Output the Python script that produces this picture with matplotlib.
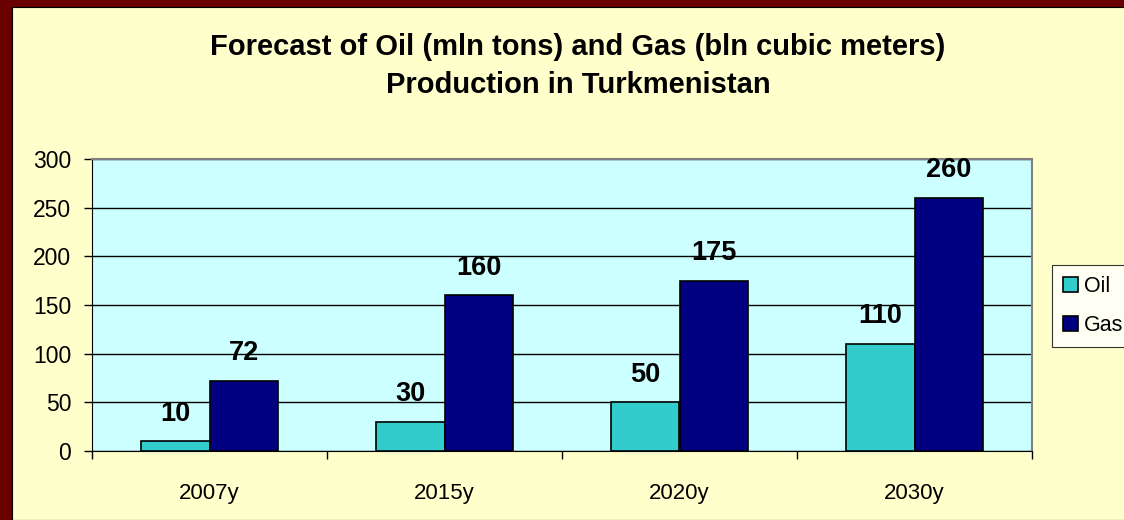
import matplotlib.pyplot as plt
from matplotlib.patches import Rectangle
import numpy as np

plt.rcParams['font.family'] = ['Liberation Sans', 'DejaVu Sans']

years = ['2007y', '2015y', '2020y', '2030y']
oil = [10, 30, 50, 110]
gas = [72, 160, 175, 260]

W, H = 1124, 520
fig = plt.figure(figsize=(W / 100, H / 100), dpi=100, facecolor='#6B0000')

# cream panel inside the dark red frame
fig.patches.append(Rectangle((12 / W, 0), 1, 1 - 7 / H, transform=fig.transFigure,
                             facecolor='#FFFFCC', edgecolor='black', linewidth=0.8, zorder=-5))

ax = fig.add_axes([92 / W, 1 - 451 / H, 940 / W, 292 / H])
ax.set_zorder(2)
ax.set_facecolor('#CCFFFF')

x = np.arange(len(years))
bw = 0.29
b1 = ax.bar(x - bw / 2, oil, bw, color='#33CCCC', edgecolor='black', linewidth=1.2, label='Oil', zorder=3)
b2 = ax.bar(x + bw / 2, gas, bw, color='#000080', edgecolor='black', linewidth=1.2, label='Gas', zorder=3)

for bars, vals in ((b1, oil), (b2, gas)):
    for bar, v in zip(bars, vals):
        ax.text(bar.get_x() + bar.get_width() / 2, v + 15, str(v),
                ha='center', va='bottom', fontsize=19.5, fontweight='bold', color='black')

ax.set_xlim(-0.5, 3.5)
ax.set_ylim(0, 300)
ax.set_yticks(range(0, 301, 50))
ax.set_xticks(x)
ax.set_xticklabels(years)
ax.set_xticks(np.arange(-0.5, 4, 1), minor=True)
ax.tick_params(axis='x', which='major', length=0, pad=23, labelsize=16)
ax.tick_params(axis='x', which='minor', length=6, direction='out', width=1)
ax.tick_params(axis='y', length=6, direction='out', width=1, labelsize=16.5, pad=9)
ax.grid(axis='y', color='black', linewidth=1, zorder=1)
ax.set_axisbelow(True)

for side in ('top', 'right'):
    ax.spines[side].set_color('#808080')
    ax.spines[side].set_linewidth(1.5)
ax.spines['left'].set_color('black')
ax.spines['bottom'].set_color('black')

fig.text(578 / W, 1 - 47 / H, 'Forecast of Oil (mln tons) and Gas (bln cubic meters)',
         ha='center', va='center', fontsize=21, fontweight='bold')
fig.text(578 / W, 1 - 85 / H, 'Production in Turkmenistan',
         ha='center', va='center', fontsize=21, fontweight='bold')

leg = fig.legend(handles=[b1, b2], loc='upper left', bbox_to_anchor=(1052 / W, 1 - 265 / H),
                 fontsize=15.5, frameon=True, fancybox=False, edgecolor='black',
                 handlelength=0.7, handleheight=0.7, handletextpad=0.3,
                 borderpad=0.5, labelspacing=0.85, borderaxespad=0)
leg.get_frame().set_linewidth(0.8)

fig.savefig('out.png', dpi=100, facecolor=fig.get_facecolor())
